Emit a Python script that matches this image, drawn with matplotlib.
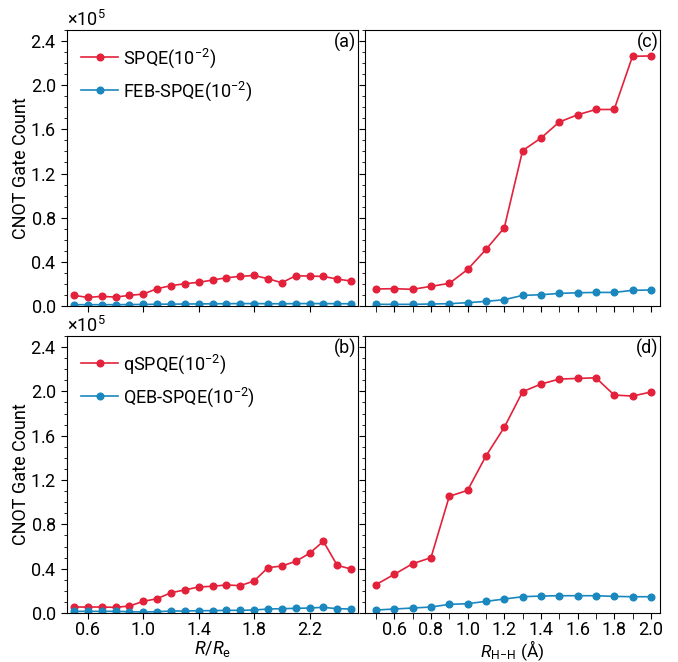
import numpy as np
import matplotlib
matplotlib.use("Agg")
import matplotlib.pyplot as plt
from matplotlib.ticker import FixedLocator, MultipleLocator, ScalarFormatter

plt.rcParams["font.family"] = ["Roboto", "DejaVu Sans"]
plt.rcParams["mathtext.fontset"] = "custom"
plt.rcParams["mathtext.rm"] = "Roboto"
plt.rcParams["mathtext.it"] = "Roboto:italic"
plt.rcParams["font.size"] = 13

RED = "#e3213b"
BLUE = "#1a87bf"

# R/Re grid, counts in units of 1e5
r_re = [0.5, 0.6, 0.7, 0.8, 0.9, 1.0, 1.1, 1.2, 1.3, 1.4, 1.5,
        1.6, 1.7, 1.8, 1.9, 2.0, 2.1, 2.2, 2.3, 2.4, 2.5]
spqe = [0.096, 0.078, 0.087, 0.081, 0.096, 0.108, 0.157, 0.184, 0.202, 0.214, 0.235,
        0.256, 0.268, 0.277, 0.247, 0.211, 0.274, 0.271, 0.268, 0.244, 0.226]
feb_spqe = [0.012, 0.012, 0.012, 0.012, 0.013, 0.014, 0.016, 0.017, 0.018, 0.019, 0.020,
            0.021, 0.022, 0.022, 0.021, 0.020, 0.022, 0.022, 0.022, 0.021, 0.020]
qspqe = [0.054, 0.054, 0.054, 0.051, 0.063, 0.105, 0.129, 0.183, 0.208, 0.235, 0.241,
         0.253, 0.247, 0.289, 0.409, 0.424, 0.466, 0.538, 0.647, 0.430, 0.397]
qeb_spqe = [0.015, 0.015, 0.015, 0.015, 0.012, 0.009, 0.012, 0.018, 0.018, 0.021, 0.021,
            0.024, 0.024, 0.027, 0.036, 0.039, 0.042, 0.045, 0.051, 0.039, 0.036]

# H-H distance (Angstrom)
r_hh = [0.5, 0.6, 0.7, 0.8, 0.9, 1.0, 1.1, 1.2, 1.3, 1.4, 1.5, 1.6, 1.7, 1.8, 1.9, 2.0]
spqe_h = [0.154, 0.157, 0.151, 0.178, 0.205, 0.331, 0.512, 0.708, 1.407, 1.521, 1.666,
          1.732, 1.780, 1.780, 2.262, 2.265]
feb_spqe_h = [0.015, 0.015, 0.015, 0.018, 0.021, 0.030, 0.042, 0.057, 0.096, 0.102, 0.114,
              0.120, 0.123, 0.123, 0.142, 0.145]
qspqe_h = [0.256, 0.349, 0.445, 0.499, 1.053, 1.107, 1.417, 1.675, 1.997, 2.066, 2.111,
           2.117, 2.123, 1.967, 1.958, 1.994]
qeb_spqe_h = [0.027, 0.036, 0.045, 0.054, 0.078, 0.084, 0.105, 0.126, 0.147, 0.153, 0.156,
              0.156, 0.156, 0.150, 0.147, 0.147]

fig = plt.figure(figsize=(6.78, 6.62), dpi=100)
W, H = 678, 662


def box(x0, y0, x1, y1):
    return [x0 / W, 1 - y1 / H, (x1 - x0) / W, (y1 - y0) / H]


ax_a = fig.add_axes(box(67, 30, 358, 306))
ax_c = fig.add_axes(box(365, 30, 660, 306))
ax_b = fig.add_axes(box(67, 336, 358, 613))
ax_d = fig.add_axes(box(365, 336, 660, 613))


def draw(ax, x, red, blue, red_lab=None, blue_lab=None):
    x = np.array(x)
    ax.plot(x, np.array(red) * 1e5, color=RED, lw=1.2, marker="o", ms=4.8,
            label=red_lab)
    ax.plot(x, np.array(blue) * 1e5, color=BLUE, lw=1.2, marker="o", ms=4.8,
            label=blue_lab)


draw(ax_a, r_re, spqe, feb_spqe, r"SPQE(10$^{-2}$)", r"FEB-SPQE(10$^{-2}$)")
draw(ax_b, r_re, qspqe, qeb_spqe, r"qSPQE(10$^{-2}$)", r"QEB-SPQE(10$^{-2}$)")
draw(ax_c, r_hh, spqe_h, feb_spqe_h)
draw(ax_d, r_hh, qspqe_h, qeb_spqe_h)

for ax, lab in zip([ax_a, ax_b, ax_c, ax_d], ["(a)", "(b)", "(c)", "(d)"]):
    ax.set_ylim(0, 2.5e5)
    ax.yaxis.set_major_locator(MultipleLocator(0.4e5))
    ax.yaxis.set_minor_locator(MultipleLocator(0.1e5))
    fmt = ScalarFormatter(useMathText=True)
    fmt.set_powerlimits((5, 5))
    ax.yaxis.set_major_formatter(fmt)
    ax.tick_params(which="both", direction="out", labelsize=13)
    ax.tick_params(which="major", length=4)
    ax.tick_params(which="minor", length=2.5)
    ax.tick_params(axis="x", pad=2)
    ax.yaxis.offsetText.set_fontsize(13)
    ax.text(0.995, 0.99, lab, transform=ax.transAxes, ha="right", va="top",
            fontsize=13)

for ax in [ax_a, ax_b]:
    ax.set_xlim(0.45, 2.55)
    ax.xaxis.set_major_locator(FixedLocator([0.6, 1.0, 1.4, 1.8, 2.2]))
    ax.set_ylabel("CNOT Gate Count", fontsize=13, labelpad=0)
    ax.legend(loc="upper left", frameon=False, fontsize=13, handlelength=2.1,
              handletextpad=0.25, labelspacing=0.5, borderaxespad=0.35,
              bbox_to_anchor=(0.0, 0.99))

for ax in [ax_c, ax_d]:
    ax.set_xlim(0.44, 2.05)
    ax.xaxis.set_major_locator(MultipleLocator(0.2))
    ax.xaxis.set_minor_locator(MultipleLocator(0.1))
    ax.tick_params(axis="x", which="minor", length=4)
    ax.tick_params(axis="y", labelleft=False)
    ax.yaxis.offsetText.set_visible(False)

for ax in [ax_a, ax_c]:
    ax.tick_params(axis="x", labelbottom=False)

ax_d.xaxis.set_major_formatter(plt.FuncFormatter(lambda v, p: f"{v:.1f}"))
ax_b.set_xlabel(r"$R/R_\mathrm{e}$", fontsize=13, labelpad=0)
ax_d.set_xlabel(r"$R_\mathrm{H\!-\!H}$ (Å)", fontsize=12.5, labelpad=-1)

fig.savefig("out.png", dpi=100)
